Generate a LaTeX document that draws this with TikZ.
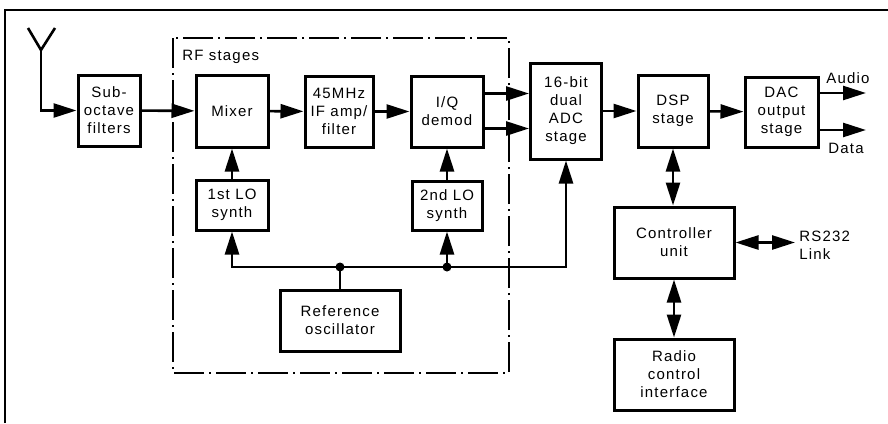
\documentclass[tikz,border=0pt]{standalone}
\usepackage{fontspec}
\newfontfamily\diagfont[LetterSpace=8]{Liberation Sans}
\usetikzlibrary{arrows.meta}

\begin{document}
\begin{tikzpicture}[x=1pt, y=-1pt, >={Triangle[length=23pt,width=14pt]}, line width=2.6pt,
  blk/.style={draw, line width=3pt, align=center, inner sep=0pt,
    font=\diagfont\fontsize{15}{18}\selectfont},
  lbl/.style={align=left, inner sep=0pt, font=\diagfont\fontsize{15}{18}\selectfont},
  rfbox/.style={line width=2.4pt, dash pattern=on 30pt off 5pt on 2pt off 5pt}]
  \useasboundingbox (0,0) rectangle (888,423);

  % Frame
  \draw[line width=1.6pt] (5,423) -- (5,10) -- (888,10);

  % RF stages
  \draw[rfbox] (173,38) rectangle (509,373);
  \node[lbl, anchor=west] (rflbl) at (181,57) {RF stages};

  % Blocks
  \node[blk, minimum width=62pt, minimum height=71pt] (sub) at (109,110.5) {Sub-\\octave\\filters};
  \node[blk, minimum width=72pt, minimum height=72pt] (mixer) at (232,111) {Mixer};
  \node[blk, minimum width=72pt, minimum height=50pt] (lo1) at (232,205) {1st LO\\synth};
  \node[blk, minimum width=68pt, minimum height=71pt] (ifamp) at (339,111.5) {45MHz\\IF amp/\\filter};
  \node[blk, minimum width=72pt, minimum height=71pt] (iq) at (447,111.5) {I/Q\\demod};
  \node[blk, minimum width=70pt, minimum height=49pt] (lo2) at (447,205.5) {2nd LO\\synth};
  \node[blk, minimum width=120pt, minimum height=61pt] (refosc) at (340,320.5) {Reference\\oscillator};
  \node[blk, minimum width=71pt, minimum height=96pt] (adc) at (566,111) {16-bit\\dual\\ADC\\stage};
  \node[blk, minimum width=70pt, minimum height=72pt] (dsp) at (673,111) {DSP\\stage};
  \node[blk, minimum width=73pt, minimum height=70pt] (dac) at (781.5,112) {DAC\\output\\stage};
  \node[blk, minimum width=120pt, minimum height=71pt] (ctrl) at (674,242.5) {Controller\\unit};
  \node[blk, minimum width=120pt, minimum height=71pt] (radio) at (674,374.5) {Radio\\control\\interface};

  % Outputs
  \coordinate (audio) at (866,93);
  \coordinate (data) at (866,130);
  \coordinate (rs232) at (795,242.5);
  \node[lbl] (audiolbl) at (848,78) {Audio};
  \node[lbl] (datalbl) at (846,148) {Data};
  \node[lbl, anchor=west] (rslbl) at (798,245) {RS232\\Link};

  % Antenna
  \coordinate (ant) at (41,50);
  \draw (28,28) -- (ant) -- (55,28);
  \draw[->] (ant) |- (sub);

  % Signal path
  \draw[->] (sub) -- (mixer);
  \draw[->] (mixer) -- (ifamp);
  \draw[->] (ifamp) -- (iq);
  \draw[->] ([yshift=18pt]iq.east) -- ([yshift=18pt]iq.east -| adc.west);
  \draw[->] ([yshift=-17pt]iq.east) -- ([yshift=-17pt]iq.east -| adc.west);
  \draw[->] (adc) -- (dsp);
  \draw[->] (dsp) -- (dac);
  \draw[->] (dac.east |- audio) -- (audio);
  \draw[->] (dac.east |- data) -- (data);

  % Local oscillators
  \draw[->] (lo1) -- (mixer);
  \draw[->] (lo2) -- (iq);
  \coordinate (jref) at (340,267);
  \coordinate (jlo2) at (447,267);
  \draw (refosc) -- (jref);
  \draw[->] (jref) -| (lo1);
  \draw[->] (jref) -- (jlo2) -| (adc);
  \draw[->] (jlo2) -- (lo2);
  \fill (jref) circle (4.5pt);
  \fill (jlo2) circle (4.5pt);

  % Control
  \draw[<->] (dsp.south) -- (dsp.south |- ctrl.north);
  \draw[<->] (ctrl.south) -- (ctrl.south |- radio.north);
  \draw[<->] (ctrl.east) -- (rs232);
\end{tikzpicture}
\end{document}
